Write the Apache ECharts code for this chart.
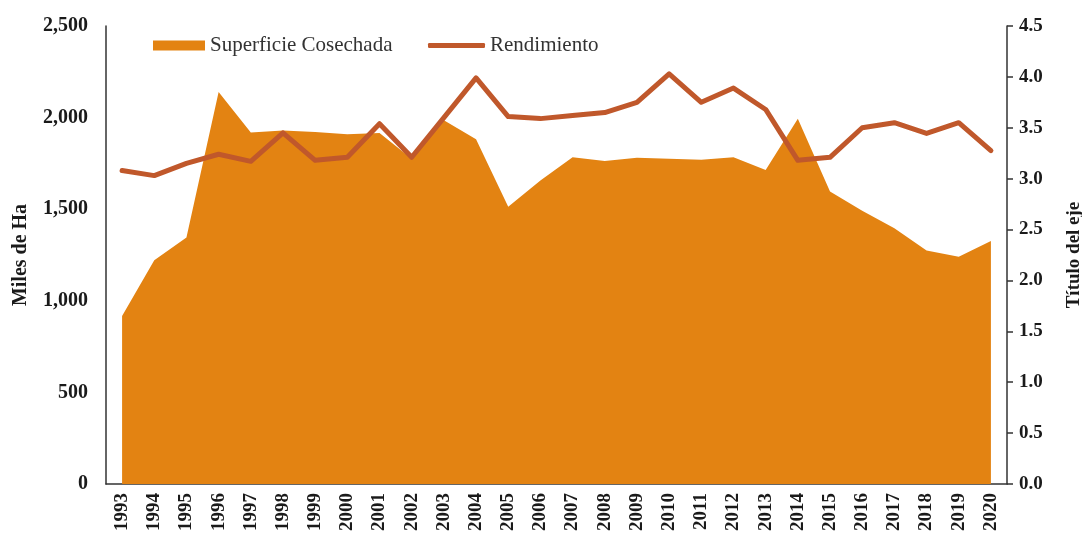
<!DOCTYPE html>
<html><head><meta charset="utf-8">
<script src="https://cdn.jsdelivr.net/npm/echarts@6/dist/echarts.min.js"></script>
<style>html,body{margin:0;padding:0;background:#fff}#c{width:1082px;height:537px}</style>
</head><body><div id="c"></div>
<script>
const years = ['1993','1994','1995','1996','1997','1998','1999','2000','2001','2002','2003','2004','2005','2006','2007','2008','2009','2010','2011','2012','2013','2014','2015','2016','2017','2018','2019','2020'];
const superficie = [917,1222,1345,2140,1918,1929,1922,1909,1916,1775,1985,1882,1514,1656,1783,1763,1781,1776,1770,1783,1714,1994,1596,1492,1396,1274,1241,1327];
const rendimiento = [3.08,3.03,3.15,3.24,3.17,3.45,3.18,3.21,3.54,3.21,3.60,3.99,3.61,3.59,3.62,3.65,3.75,4.03,3.75,3.89,3.68,3.18,3.21,3.50,3.55,3.445,3.55,3.275];
const leftTicks = {min:0,max:2500,interval:500};
const rightTicks = {min:0,max:4.5,interval:0.5};

const FONT = '"Liberation Serif", "Times New Roman", serif';
const TXT = '#1a1a1a';
const chart = echarts.init(document.getElementById('c'), null, {renderer:'canvas'});
chart.setOption({
  animation:false,
  textStyle:{fontFamily:FONT,color:TXT},
  grid:{left:106,right:75,top:26,bottom:53,outerBoundsMode:'none',containLabel:false},
  legend:[{
    left:153, top:35, itemWidth:52, itemHeight:10, padding:0,
    textStyle:{fontFamily:FONT,fontSize:21,color:'#333'},
    data:[{name:'Superficie Cosechada',icon:'rect'}]
  },{
    left:428, top:35, itemWidth:57, itemHeight:5, padding:0, itemGap:3,
    textStyle:{fontFamily:FONT,fontSize:21,color:'#333'},
    data:[{name:'Rendimiento',icon:'roundRect'}]
  }],
  xAxis:{
    type:'category', data:years, boundaryGap:true,
    axisLine:{lineStyle:{color:'#333',width:1.5}},
    axisTick:{show:false},
    axisLabel:{rotate:90,fontFamily:FONT,fontWeight:'bold',fontSize:19,color:TXT,margin:9,interval:0}
  },
  yAxis:[{
    type:'value', min:leftTicks.min, max:leftTicks.max, interval:leftTicks.interval,
    name:'Miles de Ha', nameLocation:'middle', nameGap:75, nameRotate:90,
    nameTextStyle:{fontFamily:FONT,fontWeight:'bold',fontSize:20,color:TXT},
    axisLine:{show:true,lineStyle:{color:'#333',width:1.5}},
    axisTick:{show:false},
    splitLine:{show:false},
    axisLabel:{fontFamily:FONT,fontWeight:'bold',fontSize:20,color:TXT,margin:18,
      formatter:v=>v.toLocaleString('en-US')}
  },{
    type:'value', min:rightTicks.min, max:rightTicks.max, interval:rightTicks.interval,
    name:'Título del eje', nameLocation:'middle', nameGap:58, nameRotate:90,
    nameTextStyle:{fontFamily:FONT,fontWeight:'bold',fontSize:19,color:TXT},
    axisLine:{show:true,lineStyle:{color:'#333',width:1.5}},
    axisTick:{show:true,length:6,lineStyle:{color:'#333',width:1.5}},
    splitLine:{show:false},
    axisLabel:{fontFamily:FONT,fontWeight:'bold',fontSize:19,color:TXT,margin:12,
      formatter:v=>v.toFixed(1)}
  }],
  series:[{
    name:'Superficie Cosechada', type:'line', yAxisIndex:0, data:superficie,
    symbol:'none', color:'#E38312',
    lineStyle:{width:0}, areaStyle:{color:'#E38312',opacity:1}, z:1
  },{
    name:'Rendimiento', type:'line', yAxisIndex:1, data:rendimiento,
    symbol:'none', color:'#C0582B',
    lineStyle:{width:5,color:'#C0582B',cap:'round',join:'round'}, z:3
  }]
});
</script></body></html>
